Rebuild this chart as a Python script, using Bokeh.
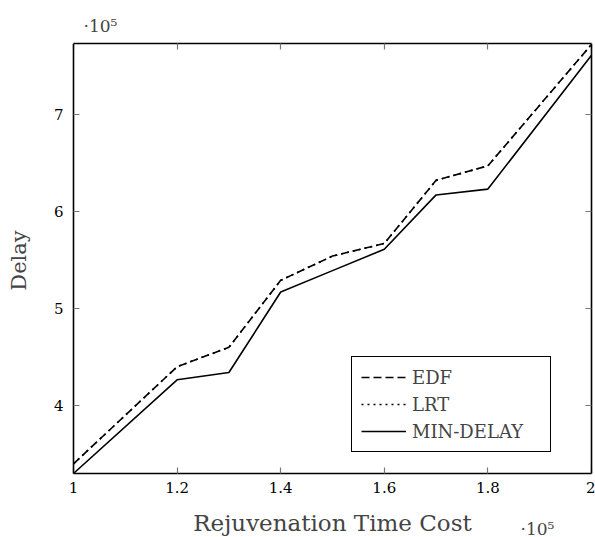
import math
from bokeh.plotting import figure
from bokeh.models import Range1d, LinearAxis, FixedTicker, Label, Legend, LegendItem, Title
from bokeh.embed import file_html
from bokeh.resources import INLINE

x_cost = [1.0, 1.2, 1.3, 1.4, 1.5, 1.6, 1.7, 1.8, 2.0]
edf = [3.40, 4.40, 4.60, 5.29, 5.54, 5.67, 6.32, 6.47, 7.72]
lrt = [3.40, 4.40, 4.60, 5.29, 5.54, 5.67, 6.32, 6.47, 7.72]
min_delay = [3.30, 4.265, 4.34, 5.17, 5.39, 5.61, 6.17, 6.23, 7.61]
x_ticks = [1.0, 1.2, 1.4, 1.6, 1.8, 2.0]
x_tick_labels = {1.0: "1", 1.2: "1.2", 1.4: "1.4", 1.6: "1.6", 1.8: "1.8", 2.0: "2"}
y_ticks = [4, 5, 6, 7]
x_lo, x_hi = 1.0, 2.0
y_lo, y_hi = 3.30, 7.73

FONT = "DejaVu Serif"

# The frame covers the whole canvas (except the top strip) so that the notes
# outside the visible box are not clipped; the box is drawn by the four axes.
W, H, TOP = 595, 537, 43
BOX_L, BOX_R, BOX_B = 73, 591, 473
xpix = (x_hi - x_lo) / (BOX_R - BOX_L)
ypix = (y_hi - y_lo) / (BOX_B - TOP)
p = figure(width=W, height=H, output_backend="svg", toolbar_location=None,
           x_range=Range1d(x_lo - BOX_L * xpix, x_hi + (W - BOX_R) * xpix),
           y_range=Range1d(y_lo - (H - BOX_B) * ypix, y_hi),
           min_border_left=0, min_border_top=TOP, min_border_right=0, min_border_bottom=0)
p.xaxis.visible = False
p.yaxis.visible = False
p.grid.visible = False
p.outline_line_color = None

def style(ax):
    ax.axis_line_color = "black"
    ax.axis_line_width = 1.6
    ax.major_tick_in = 6
    ax.major_tick_out = 0
    ax.minor_tick_line_color = None
    ax.major_tick_line_color = "#777777"
    ax.major_tick_line_width = 1.2
    ax.major_label_text_font = FONT
    ax.major_label_text_font_size = "15px"
    ax.major_label_text_color = "black"

bx = LinearAxis(ticker=FixedTicker(ticks=x_ticks), major_label_overrides=x_tick_labels,
                fixed_location=y_lo, bounds=(x_lo, x_hi))
style(bx)
bx.major_label_standoff = 8
p.add_layout(bx, "below")

tx = LinearAxis(ticker=FixedTicker(ticks=x_ticks), bounds=(x_lo, x_hi),
                major_label_overrides={t: "" for t in x_ticks})
style(tx)
tx.major_label_standoff = 0
p.add_layout(tx, "above")

p.add_layout(Title(text="·10⁵", align="left", offset=83, standoff=15,
                   text_font=FONT, text_font_size="17px", text_font_style="normal"), "above")

ly = LinearAxis(ticker=FixedTicker(ticks=y_ticks), bounds=(y_lo, y_hi), fixed_location=x_lo)
style(ly)
ly.major_label_standoff = 10
p.add_layout(ly, "left")

ry = LinearAxis(ticker=FixedTicker(ticks=y_ticks), bounds=(y_lo, y_hi), fixed_location=x_hi,
                major_label_overrides={t: "" for t in y_ticks})
style(ry)
p.add_layout(ry, "right")

r_edf = p.line(x_cost, edf, line_color="black", line_width=1.6, line_dash="8 4")
r_lrt = p.line(x_cost, lrt, line_color="black", line_width=1.6, line_dash="2 4")
r_min = p.line(x_cost, min_delay, line_color="black", line_width=1.6)

leg = Legend(items=[LegendItem(label="EDF", renderers=[r_edf]),
                    LegendItem(label="LRT", renderers=[r_lrt]),
                    LegendItem(label="MIN-DELAY", renderers=[r_min])],
             location=(351, 85))
leg.border_line_color = "black"
leg.border_line_alpha = 1.0
leg.border_line_width = 1.6
leg.label_text_font = FONT
leg.label_text_font_size = "18px"
leg.glyph_width = 45
leg.glyph_height = 22
leg.label_height = 22
leg.spacing = 5
leg.padding = 9
leg.margin = 0
leg.label_standoff = 6
leg.label_width = 129
leg.background_fill_alpha = 1
p.add_layout(leg, "center")

# axis titles and the lower exponent note
p.add_layout(Label(x=332, y=28, x_units="screen", y_units="screen",
                   text="Rejuvenation Time Cost", text_font=FONT, text_font_size="23px",
                   text_align="center", text_baseline="top"))
p.add_layout(Label(x=18, y=H - 260, x_units="screen", y_units="screen", angle=math.pi / 2,
                   text="Delay", text_font=FONT, text_font_size="21px",
                   text_align="center", text_baseline="middle"))
p.add_layout(Label(x=520, y=19, x_units="screen", y_units="screen", text="·10⁵",
                   text_font=FONT, text_font_size="17px", text_baseline="top"))

open("out.html", "w").write(file_html(p, INLINE))
